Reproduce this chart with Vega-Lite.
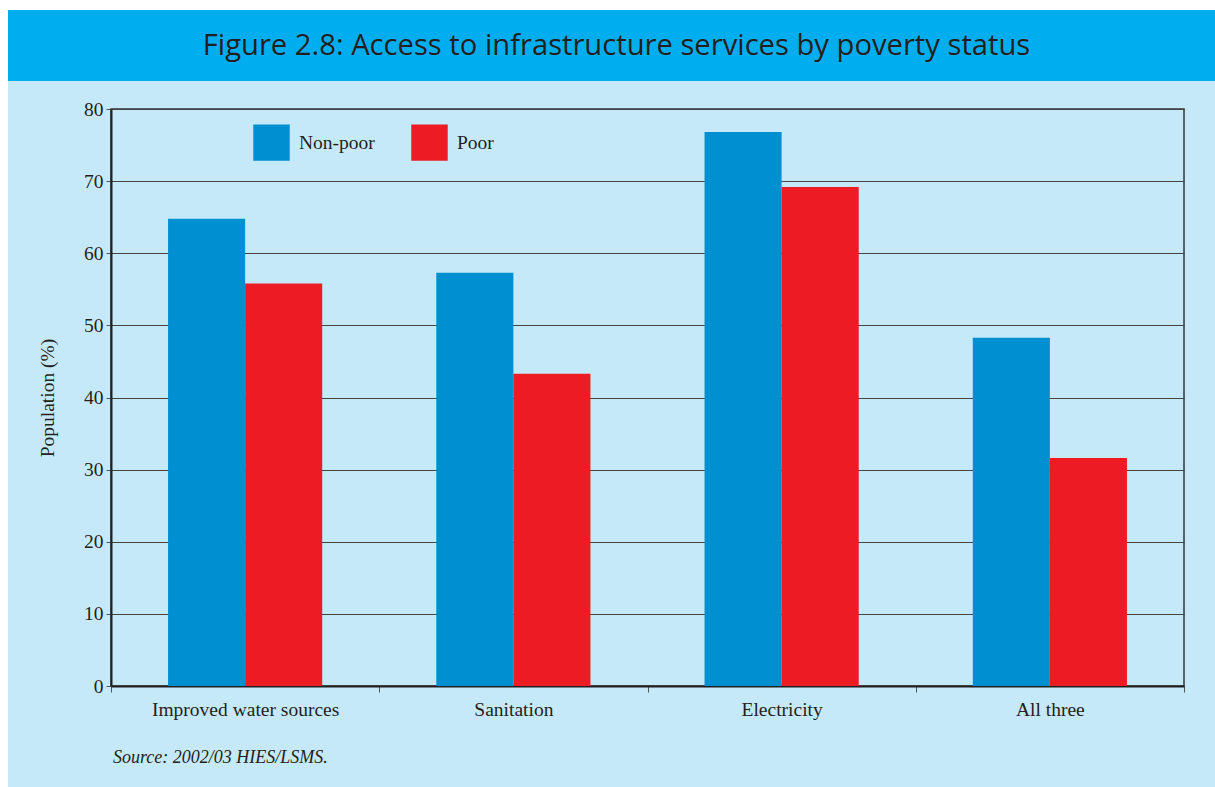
{
  "$schema": "https://vega.github.io/schema/vega-lite/v6.json",
  "background": "#C6E9FA",
  "padding": 0,
  "autosize": {"type": "pad"},
  "config": {"view": {"stroke": null}, "font": "Liberation Serif"},
  "spacing": 0,
  "hconcat": [
    {
      "width": 8, "height": 787,
      "view": {"fill": "white", "stroke": null},
      "data": {"values": []},
      "mark": "point",
      "encoding": {}
    },
    {
      "spacing": 0,
      "columns": 1,
      "align": "none",
      "concat": [
        {
          "width": 1207, "height": 10,
          "view": {"fill": "white", "stroke": null},
          "data": {"values": []},
          "mark": "point",
          "encoding": {}
        },
        {
          "width": 1207, "height": 71,
          "view": {"fill": "#00AEEF", "stroke": null},
          "data": {"values": [{"t": "Figure 2.8: Access to infrastructure services by poverty status"}]},
          "mark": {"type": "text", "font": "Open Sans", "fontSize": 29.2, "color": "#231F20", "dx": 5},
          "encoding": {"text": {"field": "t", "type": "nominal"}}
        },
        {
          "width": 1207, "height": 17,
          "data": {"values": []},
          "mark": "point",
          "encoding": {}
        },
        {
          "spacing": 0,
          "hconcat": [
            {
              "width": 28, "height": 10,
              "data": {"values": []},
              "mark": "point",
              "encoding": {}
            },
            {
              "width": 1073, "height": 577,
              "view": {"stroke": "#333333", "strokeWidth": 1.5},
              "data": {"values": [
                {"service": "Improved water sources", "status": "Non-poor", "value": 64.8},
                {"service": "Improved water sources", "status": "Poor", "value": 55.8},
                {"service": "Sanitation", "status": "Non-poor", "value": 57.3},
                {"service": "Sanitation", "status": "Poor", "value": 43.3},
                {"service": "Electricity", "status": "Non-poor", "value": 76.8},
                {"service": "Electricity", "status": "Poor", "value": 69.2},
                {"service": "All three", "status": "Non-poor", "value": 48.3},
                {"service": "All three", "status": "Poor", "value": 31.6}
              ]},
              "mark": {"type": "bar"},
              "encoding": {
                "x": {
                  "field": "service", "type": "nominal",
                  "sort": ["Improved water sources", "Sanitation", "Electricity", "All three"],
                  "scale": {"paddingInner": 0, "paddingOuter": 0},
                  "axis": {"title": null, "tickBand": "extent", "labelAngle": 0, "labelLimit": 0, "labelFontSize": 19.5, "labelPadding": 8, "tickSize": 6, "tickColor": "#555555", "domainColor": "#231F20", "domainWidth": 2, "labelColor": "#231F20", "labelFont": "Liberation Serif"}
                },
                "xOffset": {
                  "field": "status", "type": "nominal", "sort": ["Non-poor", "Poor"],
                  "scale": {"paddingInner": 0, "paddingOuter": 0.74}
                },
                "y": {
                  "field": "value", "type": "quantitative",
                  "scale": {"domain": [0, 80], "nice": false},
                  "axis": {"title": "Population (%)", "values": [0, 10, 20, 30, 40, 50, 60, 70, 80], "grid": true, "gridColor": "#444444", "gridWidth": 1, "labelFontSize": 19.5, "labelColor": "#231F20", "labelFont": "Liberation Serif", "labelPadding": 3, "tickSize": 5, "tickColor": "#555555", "domainColor": "#231F20", "domainWidth": 2, "titleFont": "Liberation Serif", "titleFontSize": 19.5, "titleFontWeight": "normal", "titleColor": "#231F20", "titlePadding": 26}
                },
                "color": {
                  "field": "status", "type": "nominal",
                  "scale": {"domain": ["Non-poor", "Poor"], "range": ["#008FD0", "#ED1C24"]},
                  "legend": {"title": null, "orient": "none", "legendX": 253, "legendY": 124, "direction": "horizontal", "symbolType": "square", "symbolSize": 1330, "symbolStrokeWidth": 0, "symbolOpacity": 1, "labelFontSize": 19.5, "labelFont": "Liberation Serif", "labelColor": "#231F20", "labelOffset": 9, "columnPadding": 36}
                }
              },
              "title": {"text": "Source: 2002/03 HIES/LSMS.", "orient": "bottom", "anchor": "start", "frame": "group", "font": "Liberation Serif", "fontStyle": "italic", "fontWeight": "normal", "fontSize": 18, "color": "#231F20", "offset": 30, "dx": 2}
            }
          ]
        }
      ]
    }
  ]
}
